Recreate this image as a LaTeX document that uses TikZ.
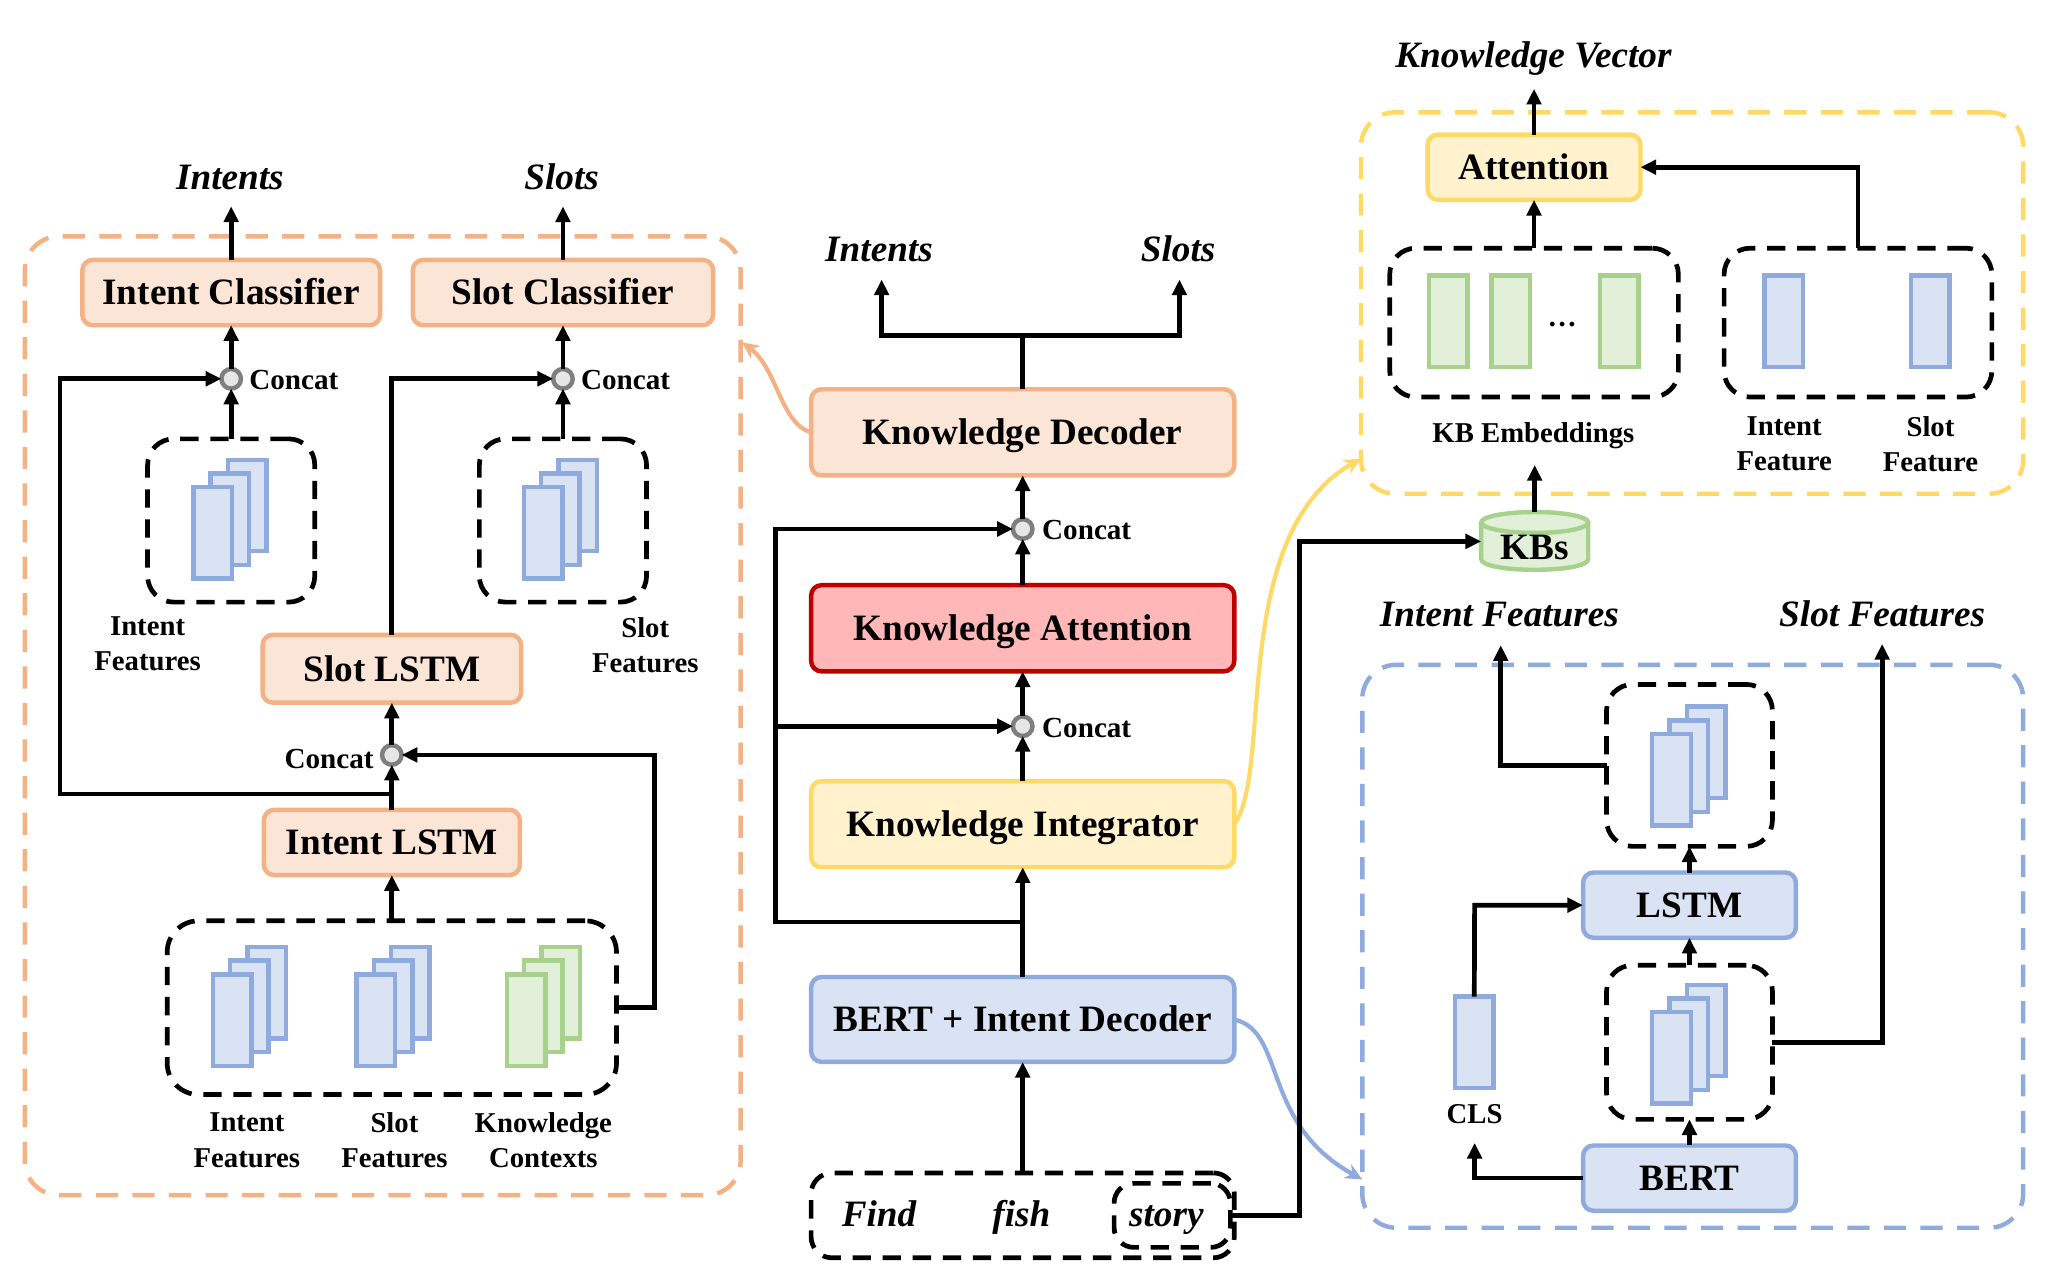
\documentclass[tikz,border=0pt]{standalone}
\usepackage{fontspec}
\setmainfont{Liberation Serif}
\usetikzlibrary{arrows.meta}
\definecolor{orL}{HTML}{F4B183}\definecolor{orF}{HTML}{FBE5D6}
\definecolor{yeL}{HTML}{FFD966}\definecolor{yeF}{HTML}{FFF2CC}
\definecolor{blL}{HTML}{8FAADC}\definecolor{blF}{HTML}{DAE3F3}
\definecolor{grL}{HTML}{A9D18E}\definecolor{grF}{HTML}{E2F0D9}
\definecolor{reL}{HTML}{C00000}\definecolor{reF}{HTML}{FFB7B7}
\definecolor{ciL}{HTML}{7F7F7F}\definecolor{ciF}{HTML}{E7E6E6}
\tikzset{
  conn/.style={line width=3.6pt,black,-{Triangle[length=12pt,width=11pt]}},
  plain/.style={line width=3.6pt,black},
  curve/.style={line width=3.2pt,-{Stealth[length=13pt,width=12pt]}},
  base/.style={rectangle,inner sep=0pt,outer sep=0pt,align=center},
  box/.style={base,rounded corners=8pt,line width=3.4pt,text height=18.8pt,text depth=0pt,font=\fontsize{28.5}{32}\selectfont\bfseries},
  orbox/.style={box,draw=orL,fill=orF},
  yebox/.style={box,draw=yeL,fill=yeF},
  blbox/.style={box,draw=blL,fill=blF},
  rebox/.style={box,draw=reL,fill=reF},
  panel/.style={base,rounded corners=26pt,line width=3.4pt,dash pattern=on 17pt off 11pt},
  group/.style={base,draw=black,rounded corners=20pt,line width=3.6pt,dash pattern=on 14pt off 9pt},
  bar/.style={base,line width=3.4pt,minimum width=29.5pt,minimum height=70pt,anchor=north west},
  blbar/.style={bar,draw=blL,fill=blF},
  grbar/.style={bar,draw=grL,fill=grF},
  joint/.style={circle,draw=ciL,fill=ciF,line width=3.4pt,minimum size=15pt,inner sep=0pt,outer sep=0pt},
  small/.style={align=center,inner sep=0pt,font=\fontsize{22}{27}\selectfont\bfseries},
  tiny/.style={inner sep=0pt,font=\fontsize{22.3}{25}\selectfont\bfseries},
  output/.style={inner sep=0pt,text height=18.8pt,text depth=0pt,font=\fontsize{28.5}{32}\selectfont\bfseries\itshape},
  word/.style={inner sep=0pt,anchor=base,font=\fontsize{28.5}{32}\selectfont\bfseries\itshape},
}
\newcommand{\tbox}[7]{% name x1 y1 x2 y2 style text
  \pgfmathsetmacro{\mycx}{(#2+#4)/2}\pgfmathsetmacro{\mycy}{(#3+#5)/2}
  \pgfmathsetmacro{\myw}{#4-#2}\pgfmathsetmacro{\myh}{#5-#3}
  \node[#6,minimum width=\myw pt,minimum height=\myh pt] (#1) at (\mycx,\mycy) {#7};}
\newcommand{\gbox}[6]{% name x1 y1 x2 y2 style
  \pgfmathsetmacro{\mycx}{(#2+#4)/2}\pgfmathsetmacro{\mycy}{(#3+#5)/2}
  \pgfmathsetmacro{\myw}{#4-#2}\pgfmathsetmacro{\myh}{#5-#3}
  \node[#6,minimum width=\myw pt,minimum height=\myh pt] (#1) at (\mycx,\mycy) {};}
\newcommand{\stack}[4]{% prefix x y style : front bar at x,y
  \pgfmathsetmacro{\mya}{#2+26.5}\pgfmathsetmacro{\myb}{#3-21}
  \pgfmathsetmacro{\myc}{#2+13.2}\pgfmathsetmacro{\myd}{#3-10.5}
  \node[#4] (#1c) at (\mya,\myb) {};
  \node[#4] (#1b) at (\myc,\myd) {};
  \node[#4] (#1a) at (#2,#3) {};}
\begin{document}
\begin{tikzpicture}[x=1pt,y=-1pt]
\useasboundingbox (0,0) rectangle (1568,980);
% panels
\gbox{pleft}{19}{181}{567}{915}{panel,draw=orL}
\gbox{pkv}{1042}{86}{1549}{378}{panel,draw=yeL}
\gbox{pbert}{1043}{509}{1549}{940}{panel,draw=blL}
% left panel
\tbox{ic}{63}{199}{291}{249}{orbox}{Intent Classifier}
\tbox{sc}{316}{199}{546}{249}{orbox}{Slot Classifier}
\node[output] (oi) at (176,136) {Intents};
\node[output] (os) at (430,136) {Slots};
\coordinate (oia) at (177,158);\coordinate (osa) at (431,158);
\node[joint] (j1) at (177,290) {};
\node[joint] (j2) at (431,290) {};
\node[tiny] at (225,291) {Concat};
\node[tiny] at (479,291) {Concat};
\gbox{g1}{113}{336}{241}{461}{group}
\gbox{g2}{367}{336}{495}{461}{group}
\stack{s1}{148}{373}{blbar}
\stack{s2}{401}{373}{blbar}
\node[small] at (113,493) {Intent\\Features};
\node[small] at (494,494) {Slot\\Features};
\tbox{sl}{201}{486}{399}{538}{orbox}{Slot LSTM}
\node[joint] (j3) at (300,578) {};
\node[tiny] at (252,581) {Concat};
\tbox{il}{202}{620}{398}{670}{orbox}{Intent LSTM}
\gbox{g3}{128}{705}{472}{838}{group,rounded corners=24pt}
\stack{s3}{163}{746}{blbar}
\stack{s4}{273}{746}{blbar}
\stack{s5}{388}{746}{grbar}
\node[small] at (189,873) {Intent\\Features};
\node[small] at (302,873) {Slot\\Features};
\node[small] at (416,873) {Knowledge\\Contexts};
\coordinate (a1) at (300,608);\coordinate (a2) at (46,608);\coordinate (a3) at (46,290);
\coordinate (b1) at (300,290);
\coordinate (c2) at (501,771.5);\coordinate (c3) at (501,578);
\draw[conn] (ic.north) -- (oia);
\draw[conn] (sc.north) -- (osa);
\draw[conn] (j1.north) -- (ic.south);
\draw[conn] (j2.north) -- (sc.south);
\draw[conn] (g1.north) -- (j1.south);
\draw[conn] (g2.north) -- (j2.south);
\draw[conn] (a1) -- (a2) -- (a3) -- (j1.west);
\draw[conn] (sl.north) -- (b1) -- (j2.west);
\draw[conn] (j3.north) -- (sl.south);
\draw[conn] (il.north) -- (j3.south);
\draw[conn] (g3.north) -- (il.south);
\draw[conn] (g3.east) -- (c2) -- (c3) -- (j3.east);
% centre
\node[output] (ci) at (673,191) {Intents};
\node[output] (cs) at (902,191) {Slots};
\tbox{kd}{621}{298}{945}{364}{orbox}{Knowledge Decoder}
\node[joint] (j4) at (783,405) {};
\node[tiny] at (832,406) {Concat};
\tbox{ka}{621}{448}{945}{514}{rebox}{Knowledge Attention}
\node[joint] (j5) at (783,556) {};
\node[tiny] at (832,557) {Concat};
\tbox{ki}{621}{598}{945}{664}{yebox}{Knowledge Integrator}
\tbox{bi}{621}{748}{945}{813}{blbox}{BERT + Intent Decoder}
\gbox{inp}{621}{898}{945}{963}{group,rounded corners=16pt}
\gbox{inpb}{853}{906}{942}{955}{group,rounded corners=15pt}
\node[word] at (673,939) {Find};
\node[word] at (782,939) {fish};
\node[word] at (893,939) {story};
\coordinate (t0) at (783,257);\coordinate (t1) at (675,257);\coordinate (t2) at (675,214);
\coordinate (t3) at (903,257);\coordinate (t4) at (903,214);
\coordinate (d1) at (783,706);\coordinate (d2) at (594,706);\coordinate (d3) at (594,405);\coordinate (d4) at (594,556);
\draw[plain] (kd.north) -- (t0);
\draw[conn] (t0) -- (t1) -- (t2);
\draw[conn] (t0) -- (t3) -- (t4);
\draw[conn] (j4.north) -- (kd.south);
\draw[conn] (ka.north) -- (j4.south);
\draw[conn] (j5.north) -- (ka.south);
\draw[conn] (ki.north) -- (j5.south);
\draw[conn] (bi.north) -- (ki.south);
\draw[conn] (inp.north) -- (bi.south);
\draw[conn] (d1) -- (d2) -- (d3) -- (j4.west);
\draw[conn] (d4) -- (j5.west);
% curved links
\coordinate (eo) at (568,262);\coordinate (ey) at (1042,351);\coordinate (eb) at (1043,903);
\draw[curve,orL] (kd.west) .. controls (598,325) and (595,282) .. (eo);
\draw[curve,yeL] (ki.east) .. controls (975,590) and (940,410) .. (ey);
\draw[curve,blL] (bi.east) .. controls (985,790) and (965,860) .. (eb);
% knowledge panel
\node[output] (kv) at (1174,42) {Knowledge Vector};
\tbox{at}{1093}{103}{1256}{153}{yebox}{Attention}
\gbox{g4}{1064}{190}{1285}{304}{group}
\gbox{g5}{1320}{190}{1525}{304}{group}
\node[grbar] (e1) at (1094,211) {};
\node[grbar] (e2) at (1142,211) {};
\node[grbar] (e3) at (1225,211) {};
\node[tiny,anchor=base] at (1196,250) {\dots};
\node[blbar] (e4) at (1351,211) {};
\node[blbar] (e5) at (1463,211) {};
\node[small] at (1174,333.5) {KB Embeddings};
\node[small] at (1366,340) {Intent\\Feature};
\node[small] at (1478,340) {Slot\\Feature};
% KB cylinder
\draw[grL,line width=3.4pt,fill=grF] (1134,400) -- (1134,428) .. controls (1134,439) and (1216,439) .. (1216,428) -- (1216,400);
\draw[grL,line width=3.4pt,fill=grF] (1175,400) ellipse [x radius=41pt,y radius=8pt];
\node[inner sep=0pt,minimum width=82pt,minimum height=45pt,outer sep=0pt] (kb) at (1175,414.5) {};
\node[inner sep=0pt,text height=18.8pt,text depth=0pt,font=\fontsize{28.5}{32}\selectfont\bfseries] (kbt) at (1175,419) {KBs};
\coordinate (kvp) at (1174.5,68);\coordinate (kbp) at (1175,356);
\coordinate (g5t) at (1422.5,128);
\coordinate (w1) at (995,930.5);\coordinate (w2) at (995,414.5);
\draw[conn] (at.north) -- (kvp);
\draw[conn] (g4.north) -- (at.south);
\draw[conn] (g5.north) -- (g5t) -- (at.east);
\draw[conn] (kb.north) -- (kbp);
\draw[conn] (inpb.east) -- (w1) -- (w2) -- (kb.west);
% bert panel
\node[output] (fi) at (1148,470) {Intent Features};
\node[output] (fs) at (1441,470) {Slot Features};
\tbox{lt}{1212}{668}{1375}{718}{blbox}{LSTM}
\tbox{bt}{1212}{877}{1375}{927}{blbox}{BERT}
\gbox{g6}{1230}{524}{1357}{648}{group}
\gbox{g7}{1230}{739}{1357}{857}{group}
\stack{s6}{1265}{562}{blbar}
\stack{s7}{1265}{775}{blbar}
\node[blbar] (cl) at (1114,763) {};
\node[small] at (1129,853) {CLS};
\coordinate (p1) at (1129,902);\coordinate (p2) at (1129,875);
\coordinate (p3) at (1129,693);
\coordinate (q1) at (1149,586);\coordinate (q2) at (1149,494);
\coordinate (r1) at (1441,798);\coordinate (r2) at (1441,493);
\draw[conn] (bt.west) -- (p1) -- (p2);
\draw[conn] (cl.north) -- (p3) -- (lt.west);
\draw[conn] (bt.north) -- (g7.south);
\draw[conn] (g7.north) -- (lt.south);
\draw[conn] (lt.north) -- (g6.south);
\draw[conn] (g6.west) -- (q1) -- (q2);
\draw[conn] (g7.east) -- (r1) -- (r2);
\end{tikzpicture}
\end{document}
